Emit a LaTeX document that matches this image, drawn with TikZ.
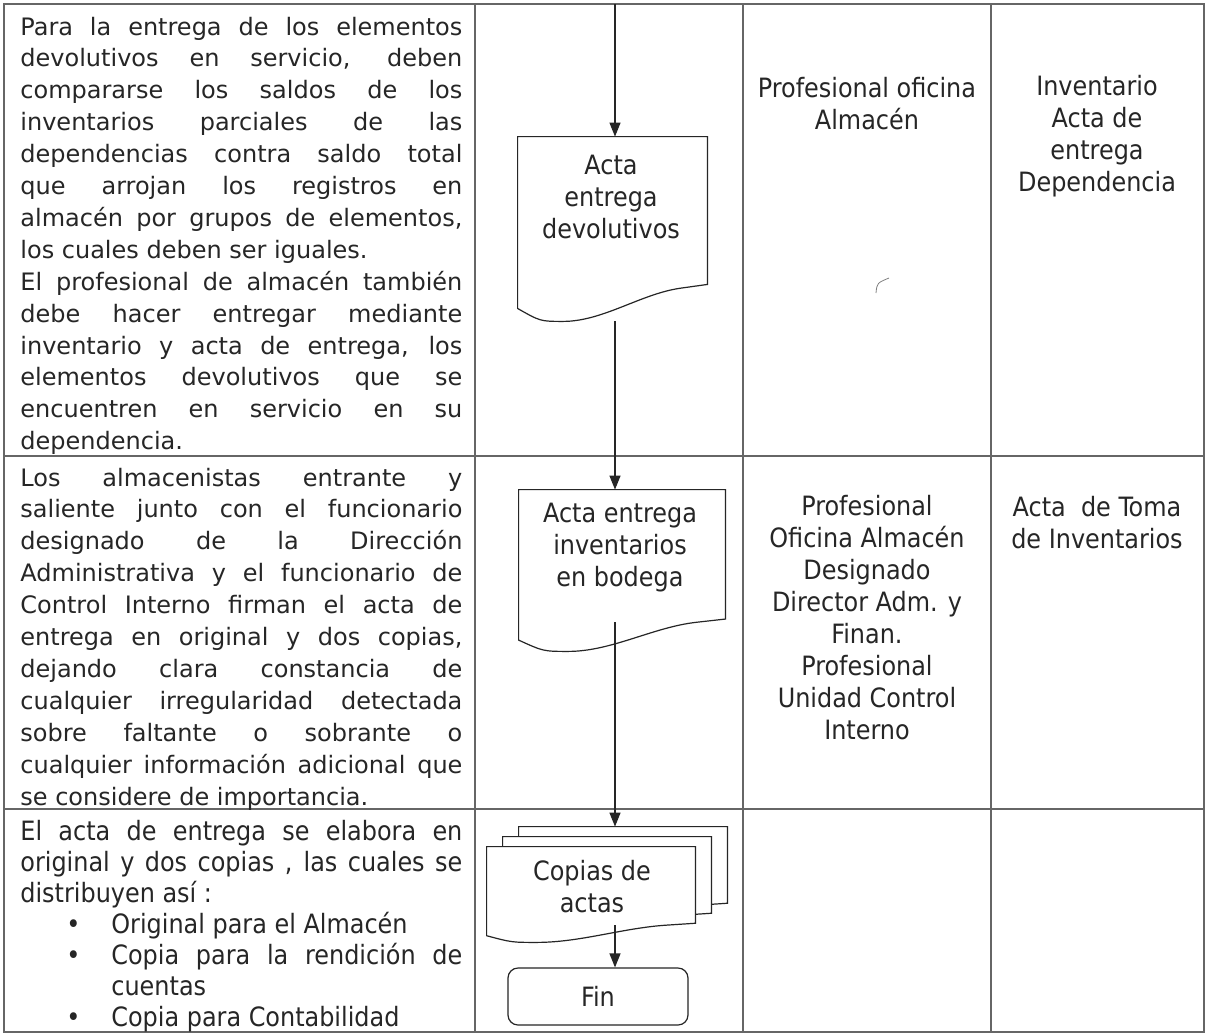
\documentclass[tikz,border=0pt]{standalone}
\usepackage{fontspec}
\setmainfont{DejaVu Sans}
\newfontfamily\tahoma{DejaVu Sans Condensed}
\usetikzlibrary{arrows.meta, calc, fit, positioning}
\hbadness=10000
\hfuzz=3pt

\tikzset{
  rejilla/.style={draw=black!60, line width=0.9pt},
  linea/.style={draw=black!85, line width=0.6pt},
  flecha/.style={draw=black!85, line width=0.6pt, -{Triangle[length=7pt,width=5.5pt]}},
  celda/.style={inner sep=0pt, anchor=base west, text width=221pt, align=justify,
    text=black!85, font=\fontsize{12}{15.95}\selectfont},
  celdab/.style={celda, font=\tahoma\fontsize{13.3}{15.5}\selectfont},
  rol/.style={inner sep=0pt, align=center, text=black!85, font=\tahoma\fontsize{13.3}{16}\selectfont},
  marco/.style={inner sep=0pt},
  fin/.style={marco, linea, rounded corners=5pt, minimum width=90pt, minimum height=28.5pt,
    text=black!85, font=\tahoma\fontsize{13.3}{16}\selectfont},
}

% hoja de documento con borde inferior ondulado
\newcommand{\hoja}[1]{%
  \begin{scope}[shift={(#1.south west)},
      x={($(#1.south east)-(#1.south west)$)},
      y={($(#1.north west)-(#1.south west)$)}]
    \draw[linea, fill=white] (0,1) -- (1,1) -- (1,0.2) -- (0.86,0.18)
      .. controls (0.65,0.15) and (0.45,0) .. (0.24,0)
      .. controls (0.12,0) .. (0,0.07) -- cycle;
  \end{scope}}

\begin{document}
\begin{tikzpicture}[x=0.5pt, y=-0.5pt]
\useasboundingbox[fill=white] (0,0) rectangle (1206,1035);

% tabla
\draw[rejilla] (4,4) rectangle (1204,1032);
\foreach \x in {475,743,991}
  \draw[rejilla] (\x,4) -- (\x,1032);
\foreach \y in {456,809}
  \draw[rejilla] (4,\y) -- (1204,\y);

% columna de descripcion
\node[celda] (desc1) at (20,35) {Para la entrega de los elementos\linebreak
devolutivos en servicio, deben\linebreak
compararse los saldos de los\linebreak
inventarios parciales de las\linebreak
dependencias contra saldo total\linebreak
que arrojan los registros en\linebreak
almacén por grupos de elementos,\linebreak
los cuales deben ser iguales.\par
El profesional de almacén también\linebreak
debe hacer entregar mediante\linebreak
inventario y acta de entrega, los\linebreak
elementos devolutivos que se\linebreak
encuentren en servicio en su\linebreak
dependencia.};

\node[celda] (desc2) at (20,486) {Los almacenistas entrante y\linebreak
saliente junto con el funcionario\linebreak
designado de la Dirección\linebreak
Administrativa y el funcionario de\linebreak
Control Interno firman el acta de\linebreak
entrega en original y dos copias,\linebreak
dejando clara constancia de\linebreak
cualquier irregularidad detectada\linebreak
sobre faltante o sobrante o\linebreak
cualquier información adicional que\linebreak
se considere de importancia.};

\node[celdab] (desc3) at (20,840) {El acta de entrega se elabora en\linebreak
original y dos copias , las cuales se\linebreak
distribuyen así :\par
\hspace*{23pt}\makebox[22.5pt][l]{\textbullet}Original para el Almacén\par
\hangindent=45.5pt\hangafter=1
\hspace*{23pt}\makebox[22.5pt][l]{\textbullet}Copia para la rendición de\linebreak
cuentas\par
\hspace*{23pt}\makebox[22.5pt][l]{\textbullet}Copia para Contabilidad};

% diagrama
\coordinate (inicio) at (615,4);
\node[marco, fit={(518,137) (707,321)}] (d1) {};
\node[marco, fit={(519,490) (725,651)}] (d2) {};
\node[marco, fit={(519,827) (727,922)}] (c3) {};
\node[marco, fit={(503,837) (711,932)}] (c2) {};
\node[marco, fit={(487,847) (695,942)}] (c1) {};
\hoja{d1}
\hoja{d2}
\hoja{c3}
\hoja{c2}
\hoja{c1}
\node[fin] (fin) at (598,996.5) {Fin};

\node[rol] (t1) at (611,197) {Acta\\entrega\\devolutivos};
\node[rol] (t2) at (620,548) {Acta entrega\\inventarios\\en bodega};
\node[rol] (t3) at (592,887) {Copias de\\actas};

\draw[flecha] (inicio) -- (d1.north -| inicio);
\draw[flecha] (d1.south -| inicio) -- (d2.north -| inicio);
\draw[flecha] ($(d2.south -| inicio)+(0,-29)$) -- (c3.north -| inicio);
\draw[flecha] ($(c1.south -| inicio)+(0,-17)$) -- (fin.north -| inicio);

% responsables y registros
\node[rol] (resp1) at (867,104) {Profesional oficina\\Almacén};
\node[rol] (reg1) at (1097,136) {Inventario\\Acta de\\entrega\\Dependencia};
\node[rol] (resp2) at (867,618) {Profesional\\Oficina Almacén\\Designado\\Director Adm. y\\Finan.\\Profesional\\Unidad Control\\Interno};
\node[rol] (reg2) at (1097,523) {Acta~ de Toma\\de Inventarios};

\draw[black!50, line width=0.4pt] (876,293) .. controls (877,283) .. (889,278);
\end{tikzpicture}
\end{document}
